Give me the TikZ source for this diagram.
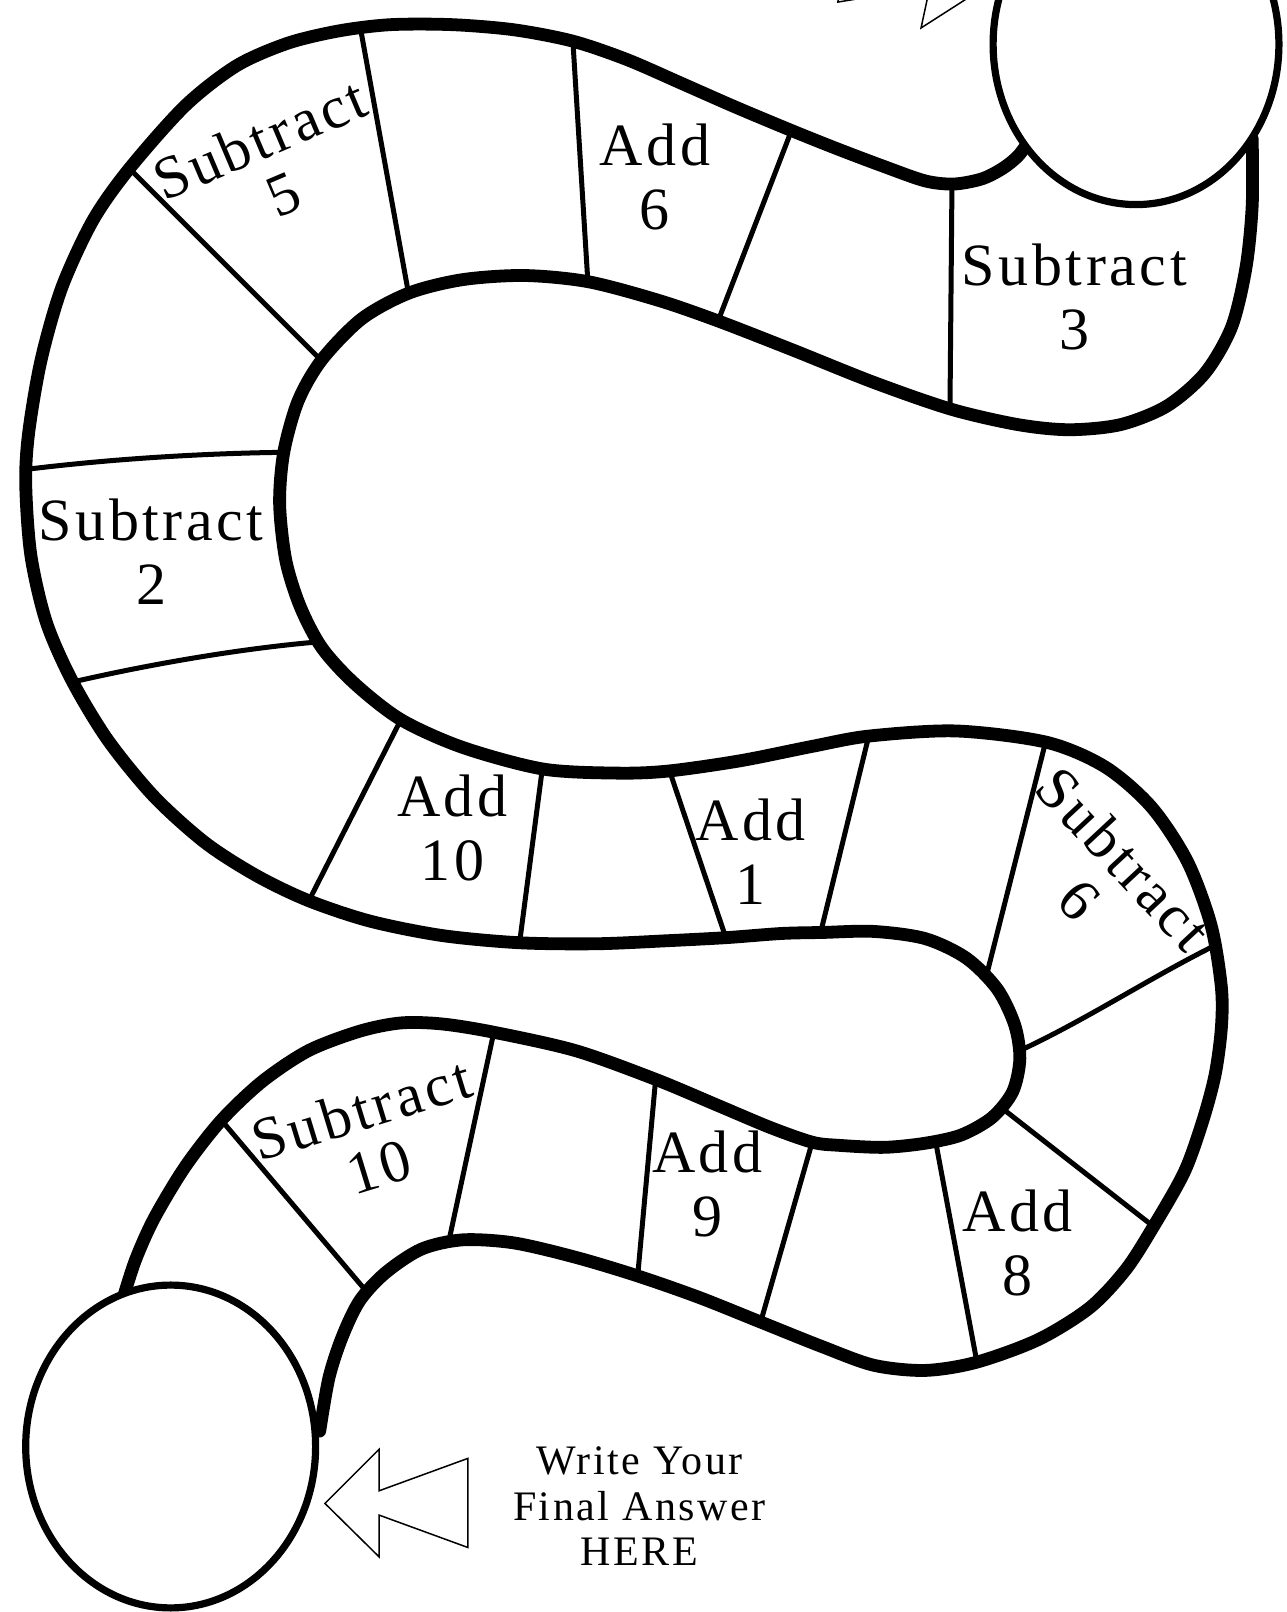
\documentclass[tikz,border=0pt]{standalone}
\usepackage{fontspec}
\setmainfont{Liberation Serif}[LetterSpace=6]
\begin{document}
\begin{tikzpicture}[x=0.514pt,y=-0.514pt,
  band/.style={line width=6.4pt, line cap=round, line join=round},
  divider/.style={line width=2.5pt},
  spot/.style={line width=3.6pt, fill=white},
  cell/.style={align=center, inner sep=0pt, font=\fontsize{30}{32}\selectfont},
  rcell/.style={align=center, inner sep=0pt, font=\fontsize{30}{30}\selectfont},
  note/.style={align=center, inner sep=0pt, font=\fontsize{21}{22.6}\selectfont},
  arrowshape/.style={line width=0.75pt, fill=white, line join=miter}]
\useasboundingbox (0,0) rectangle (1251,1568);
\begin{scope}
\clip (0,0) rectangle (1251,1568);
% dividers
\draw[divider] (926,176) -- (924,402);
\draw[divider] (771,124) -- (697,316);
\draw[divider] (557,36) -- (572,277);
\draw[divider] (350,24) -- (398,289);
\draw[divider] (124,162) -- (315,353);
\draw[divider] (22,457) .. controls (110,446) and (200,441) .. (274,440);
\draw[divider] (68,664) .. controls (150,645) and (240,630) .. (314,624);
\draw[divider] (299,879) -- (392,696);
\draw[divider] (505,920) -- (528,744);
\draw[divider] (707,915) -- (650,746);
\draw[divider] (797,912) -- (846,712);
\draw[divider] (960,947) -- (1018,718);
\draw[divider] (994,1021) .. controls (1060,990) and (1120,950) .. (1187,917);
\draw[divider] (976,1079) -- (1122,1193);
\draw[divider] (951,1329) -- (910,1110);
\draw[divider] (739,1289) -- (790,1111);
\draw[divider] (620,1244) -- (638,1047);
\draw[divider] (436,1210) -- (481,1001);
\draw[divider] (358,1258) -- (214,1088);
% band outlines
\draw[band] plot[smooth, tension=0.5] coordinates {
 (1002,136) (990,152) (975,164) (955,174) (928,179) (900,176) (860,162)
 (815,145) (770,127) (715,104) (665,82) (610,58) (557,40) (500,29)
 (440,24) (380,24) (330,30) (280,42) (230,64) (180,103) (125,165)
 (90,215) (60,280) (40,350) (28,420) (25,470) (30,540) (45,605)
 (70,662) (105,720) (150,775) (200,820) (250,852) (300,876) (360,896)
 (430,910) (505,917) (580,918) (650,915) (707,912) (760,908) (800,907)
 (850,906) (900,913) (940,932) (970,962) (987,997) (992,1030) (985,1062)
 (965,1087) (935,1104) (900,1112) (860,1116) (815,1114) (790,1111)
 (750,1097) (700,1076) (638,1050) (560,1022) (480,1004) (430,996)
 (390,995) (350,1003) (300,1022) (255,1052) (215,1090) (180,1135)
 (150,1185) (132,1225) (120,1262)};
\draw[band] plot[smooth, tension=0.5] coordinates {
 (1218,135) (1218,200) (1212,260) (1198,318) (1172,363) (1135,395)
 (1090,413) (1040,418) (990,413) (925,398) (850,372) (770,340) (698,312)
 (640,292) (572,274) (510,268) (450,272) (398,285) (352,310) (313,350)
 (290,390) (276,440) (272,490) (278,545) (292,590) (313,630) (345,665)
 (390,700) (450,727) (528,748) (600,752) (650,750) (720,740) (790,726)
 (845,716) (930,711) (1018,722) (1075,746) (1120,785) (1155,838)
 (1178,900) (1188,960) (1188,1000) (1182,1045) (1170,1090) (1152,1140)
 (1122,1193) (1095,1235) (1060,1272) (1010,1303) (950,1325) (900,1333)
 (850,1328) (800,1310) (740,1286) (680,1262) (620,1241) (560,1223)
 (500,1209) (450,1206) (410,1215) (375,1238) (350,1265) (333,1300)
 (320,1340) (311,1392)};
% start and finish spots
\draw[spot] (1105,43) ellipse [x radius=139, y radius=156];
\draw[spot] (166,1407) ellipse [x radius=141, y radius=157];
% arrows
\draw[arrowshape] (958.1,-12.6) -- (917.6,-74.9) -- (909.2,-35.6) -- (831.5,-84.3)
  -- (815,2) -- (904.4,-12.5) -- (895.9,27.2) -- cycle;
\draw[arrowshape] (316.1,1462.4) -- (368.7,1409.8) -- (368.7,1450.1) -- (455,1418.6)
  -- (455,1505.2) -- (368.7,1473.7) -- (368.7,1514.3) -- cycle;
\end{scope}
% labels
\node[rcell, rotate=23] (s5) at (264,162) {Subtract\\5};
\node[cell] (a6) at (637,172) {Add\\6};
\node[cell] (s3) at (1045,289) {Subtract\\3};
\node[cell] (s2) at (147,537) {Subtract\\2};
\node[cell] (a10) at (440,805) {Add\\10};
\node[cell] (a1) at (730,828) {Add\\1};
\node[rcell, rotate=-47] (s6) at (1072,855) {Subtract\\6};
\node[rcell, rotate=17] (s10) at (360,1107) {Subtract\\10};
\node[cell] (a9) at (688,1152) {Add\\9};
\node[cell] (a8) at (990,1209) {Add\\8};
\node[note] (fin) at (622,1465) {Write Your\\Final Answer\\HERE};
\end{tikzpicture}
\end{document}
